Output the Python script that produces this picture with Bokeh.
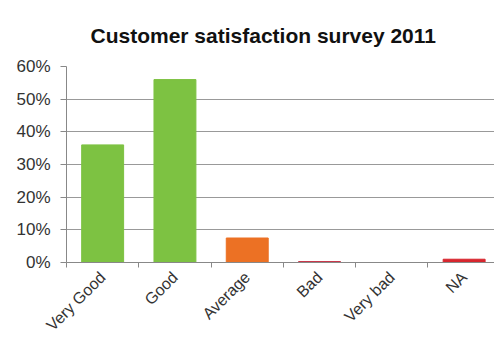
from bokeh.plotting import figure
from bokeh.models import FixedTicker, ColumnDataSource, Range1d, NumeralTickFormatter
from bokeh.embed import file_html
from bokeh.resources import INLINE
import math

categories = ["Very Good", "Good", "Average", "Bad", "Very bad", "NA"]
values = [0.36, 0.56, 0.075, 0.003, 0.0, 0.01]
colors = ["#7DC242", "#7DC242", "#EC7124", "#C8364A", "#D7262E", "#D7262E"]
y_ticks = [0, 0.1, 0.2, 0.3, 0.4, 0.5, 0.6]

centers = [i + 0.5 for i in range(len(categories))]
bounds = list(range(len(categories) + 1))

src = ColumnDataSource(dict(x=centers, top=values, color=colors))

p = figure(width=494, height=347, output_backend="svg", toolbar_location=None,
           x_range=Range1d(0, 5.92), y_range=Range1d(0, 0.6),
           min_border_left=66, min_border_right=0, min_border_top=66, min_border_bottom=85,
           title="Customer satisfaction survey 2011")
p.outline_line_color = None
p.title.align = "left"
p.title.text_font = "Liberation Sans"
p.title.text_font_size = "21px"
p.title.text_font_style = "bold"
p.title.text_color = "#111111"
p.title.offset = 24
p.title.standoff = 39

p.vbar(x="x", top="top", width=0.58, color="color", source=src)

font = "Liberation Sans"
p.yaxis.ticker = FixedTicker(ticks=y_ticks)
p.yaxis.formatter = NumeralTickFormatter(format="0%")
p.yaxis.major_label_text_font = font
p.yaxis.major_label_text_font_size = "17px"
p.yaxis.major_label_text_color = "#333333"
p.yaxis.axis_line_color = "#888888"
p.yaxis.major_tick_line_color = "#888888"
p.yaxis.major_tick_out = 6
p.yaxis.major_tick_in = 0
p.yaxis.minor_tick_line_color = None
p.yaxis.major_label_standoff = 10

p.xaxis.ticker = FixedTicker(ticks=centers, minor_ticks=bounds)
p.xaxis.major_label_overrides = {c: lab for c, lab in zip(centers, categories)}
p.xaxis.major_tick_line_color = None
p.xaxis.minor_tick_line_color = "#888888"
p.xaxis.minor_tick_out = 5
p.xaxis.minor_tick_in = 0
p.xaxis.axis_line_color = "#888888"
p.xaxis.major_label_orientation = math.pi / 4
p.xaxis.major_label_text_font = font
p.xaxis.major_label_text_font_size = "16px"
p.xaxis.major_label_text_color = "#333333"
p.xaxis.major_label_standoff = 6

p.xgrid.grid_line_color = None
p.ygrid.grid_line_color = "#999999"
p.ygrid.ticker = FixedTicker(ticks=y_ticks)

open("out.html", "w").write(file_html(p, INLINE))
